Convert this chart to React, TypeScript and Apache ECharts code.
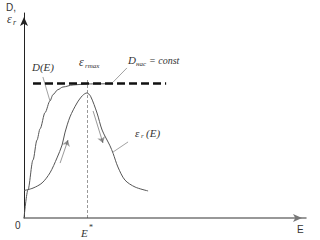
import React, { useEffect, useRef } from "react";
import * as echarts from "echarts";

// Data space: E from 0..100, value 0..100
const dCurve: number[][] = [
  [0, 0], [1.4, 13.7], [3.2, 28.3], [4.6, 38], [5.7, 43.5], [7.5, 51.5], [9.2, 57.1],
  [10.3, 60.2], [12, 62.6], [13.8, 63.9], [17.4, 64.9], [22.3, 65.4], [31.6, 65.5],
];
const epsCurve: number[][] = [
  [0, 13.4], [3.2, 14.6], [6.4, 17.1], [9.2, 22], [11.7, 29.3], [13.5, 35.6],
  [14.5, 41.5], [16.3, 49.3], [18.8, 56.1], [20.8, 59.8], [22.3, 61], [23.6, 59.4],
  [25.9, 51.2], [27.7, 42.9], [30.5, 35.2], [31.6, 31.5], [33.3, 24.9],
  [35.8, 18.5], [39.4, 15.1], [44, 13.2],
];
const dSatLevel = 65.6;
const dSatRange = [3.2, 50.4];
const eStar = 22.3;
const eStarTop = 67.5;
const arrowsUp: number[][][] = [[[12.8, 26.8], [15.6, 38]]];
const arrowsDown: number[][][] = [[[24.5, 52.2], [28, 36.6]]];
const leaders: number[][][] = [
  [[6.7, 68.8], [9.2, 57.1]],
  [[36.5, 73.2], [31.6, 66.3]],
  [[36.9, 37.1], [31.6, 32.2]],
];

const serif = '"Liberation Serif", "DejaVu Serif", serif';
const sans = '"Liberation Sans", "DejaVu Sans", sans-serif';

function txt(text: string, x: number, y: number, font: string, fill = "#333") {
  return { type: "text", x, y, style: { text, font, fill, textVerticalAlign: "middle" } };
}

export default function App() {
  const ref = useRef<HTMLDivElement>(null);
  useEffect(() => {
    if (!ref.current) return;
    const chart = echarts.init(ref.current, null, { renderer: "svg" });
    chart.setOption({
      animation: false,
      backgroundColor: "#fff",
      grid: { left: 24, top: 13, right: 14, bottom: 22 },
      xAxis: {
        type: "value", min: 0, max: 100,
        axisLine: { show: true, symbol: ["none", "arrow"], symbolSize: [6, 9], symbolOffset: [0, -4], lineStyle: { color: "#777", width: 1.5 } },
        axisTick: { show: false }, axisLabel: { show: false }, splitLine: { show: false },
      },
      yAxis: {
        type: "value", min: 0, max: 100,
        axisLine: { show: true, symbol: ["none", "arrow"], symbolSize: [6, 9], symbolOffset: [0, -4], lineStyle: { color: "#222", width: 1 } },
        axisTick: { show: false }, axisLabel: { show: false }, splitLine: { show: false },
      },
      series: [
        {
          type: "line", data: dCurve, showSymbol: false, smooth: 0.3, smoothMonotone: "x",
          lineStyle: { color: "#555", width: 1 },
        },
        {
          type: "line", data: epsCurve, showSymbol: false, smooth: 0.3,
          lineStyle: { color: "#555", width: 1 },
        },
        {
          type: "line", data: [[dSatRange[0], dSatLevel], [dSatRange[1], dSatLevel]], showSymbol: false,
          lineStyle: { color: "#111", width: 2.5, type: [8, 4] },
        },
        {
          type: "lines", coordinateSystem: "cartesian2d", symbol: ["none", "none"],
          lineStyle: { color: "#333", width: 1, type: [3, 2] },
          data: [{ coords: [[eStar, 0], [eStar, eStarTop]] }],
        },
        {
          type: "lines", coordinateSystem: "cartesian2d", symbol: ["none", "arrow"], symbolSize: 6,
          lineStyle: { color: "#333", width: 1 },
          data: [...arrowsUp, ...arrowsDown].map((c) => ({ coords: c })),
        },
        {
          type: "lines", coordinateSystem: "cartesian2d", symbol: ["none", "none"],
          lineStyle: { color: "#444", width: 1 },
          data: leaders.map((c) => ({ coords: c })),
        },
      ],
      graphic: [
        txt("D,", 6, 7, `10px ${sans}`),
        txt("ε", 7, 19, `italic 12px ${serif}`),
        txt("r", 13, 22, `italic 8px ${serif}`),
        txt("0", 15, 225, `10px ${sans}`),
        txt("E", 297, 229, `10px ${sans}`),
        txt("E", 81, 233, `italic 11px ${serif}`),
        txt("*", 89, 227, `8px ${serif}`),
        txt("D(E)", 32, 67, `italic 11px ${serif}`),
        txt("ε", 79, 62, `italic 12px ${serif}`),
        txt("rmax", 85, 66, `italic 7px ${serif}`),
        txt("D", 128, 60, `italic 11px ${serif}`),
        txt("нас", 136, 64, `italic 7px ${serif}`),
        txt("= const", 149, 60, `italic 10px ${serif}`),
        txt("ε", 135, 133, `italic 11px ${serif}`),
        txt("r", 141, 136, `italic 7px ${serif}`),
        txt("(E)", 146, 133, `italic 11px ${serif}`),
      ],
    });
    return () => chart.dispose();
  }, []);
  return <div ref={ref} style={{ position: "fixed", left: 0, top: 0, width: 320, height: 240 }} />;
}
